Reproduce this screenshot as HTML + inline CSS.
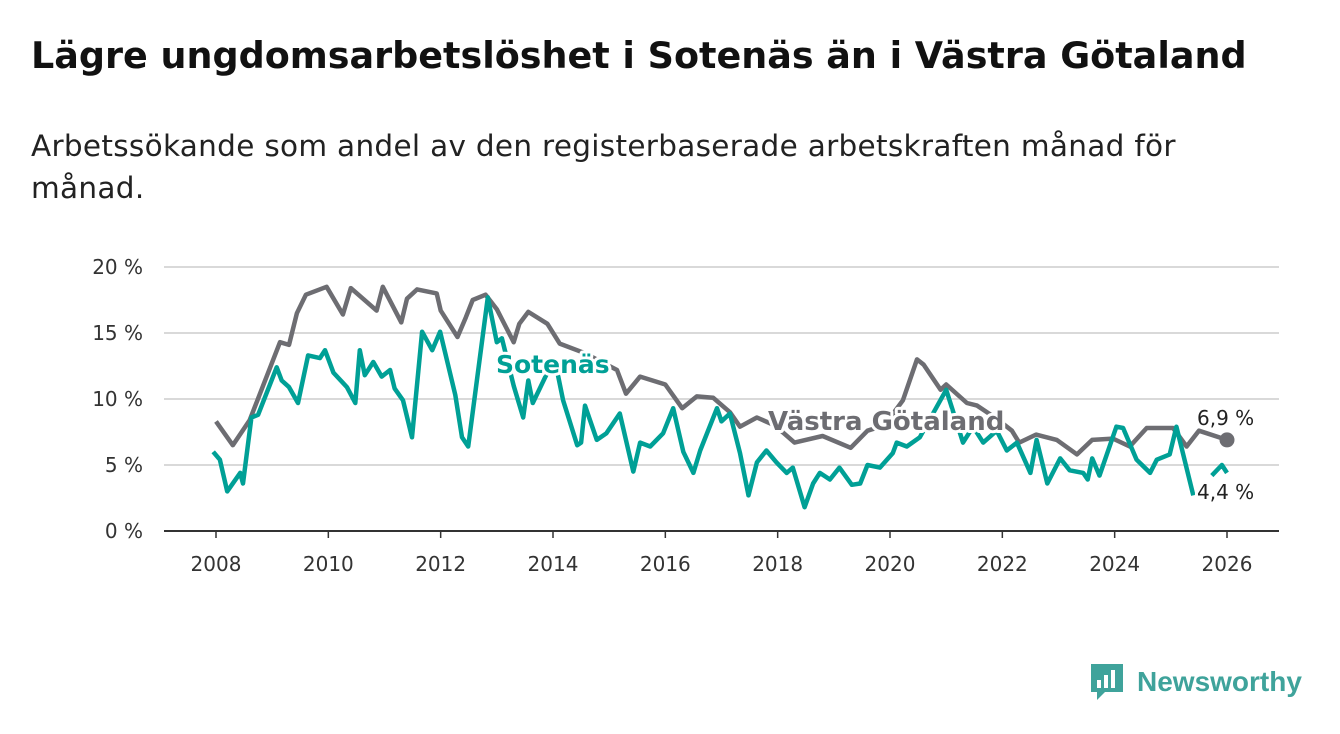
<!DOCTYPE html>
<html><head><meta charset="utf-8">
<style>
body{margin:0;background:#fff;width:1340px;height:734px;overflow:hidden;font-family:"DejaVu Sans","Liberation Sans",sans-serif;}
h1{position:absolute;left:31px;top:34px;margin:0;font-size:36.5px;font-weight:bold;color:#111;white-space:nowrap}
.sub{position:absolute;left:31px;top:125px;margin:0;font-size:29.5px;line-height:42px;color:#222;width:1280px;letter-spacing:0.3px;white-space:nowrap}
</style></head><body>
<h1>Lägre ungdomsarbetslöshet i Sotenäs än i Västra Götaland</h1>
<p class="sub">Arbetssökande som andel av den registerbaserade arbetskraften månad för<br>månad.</p>
<svg id="chart" width="1340" height="734" style="position:absolute;left:0;top:0"></svg>
<div style="position:absolute;left:1089px;top:662px;display:flex;align-items:center">
<svg width="36" height="40"><path d="M2 2h32v28H16l-8 8v-8H2z" fill="#3fa39b"/><rect x="8" y="18" width="4" height="8" fill="#fff"/><rect x="15" y="13" width="4" height="13" fill="#fff"/><rect x="22" y="8" width="4" height="18" fill="#fff"/></svg>
<span style="font-size:28px;color:#3fa39b;margin-left:12px;font-family:'Liberation Sans',sans-serif;font-weight:bold">Newsworthy</span></div>
<script>
const yTicks=[0,5,10,15,20];
const xTicks=[2008,2010,2012,2014,2016,2018,2020,2022,2024,2026];
const vgDates=[2008.0,2008.3,2008.6,2009.14,2009.3,2009.44,2009.6,2009.97,2010.26,2010.4,2010.86,2010.97,2011.3,2011.4,2011.58,2011.93,2012.0,2012.3,2012.45,2012.57,2012.8,2013.0,2013.3,2013.4,2013.56,2013.9,2014.12,2014.55,2015.14,2015.3,2015.55,2016.0,2016.3,2016.56,2016.85,2017.15,2017.33,2017.63,2017.95,2018.3,2018.8,2019.3,2019.6,2019.9,2020.23,2020.48,2020.6,2020.9,2021.0,2021.37,2021.55,2021.9,2022.17,2022.3,2022.6,2022.97,2023.33,2023.6,2023.97,2024.27,2024.57,2025.04,2025.28,2025.5,2026.0];
const vgValues=[8.3,6.5,8.4,14.3,14.1,16.5,17.9,18.5,16.4,18.4,16.7,18.5,15.8,17.6,18.3,18.0,16.7,14.7,16.2,17.5,17.9,16.8,14.3,15.7,16.6,15.7,14.2,13.5,12.2,10.4,11.7,11.1,9.3,10.2,10.1,9.0,7.9,8.6,8.0,6.7,7.2,6.3,7.6,8.0,9.9,13.0,12.6,10.7,11.1,9.7,9.5,8.5,7.6,6.7,7.3,6.9,5.8,6.9,7.0,6.4,7.8,7.8,6.4,7.6,6.9];
const soDates=[2007.95,2008.07,2008.2,2008.43,2008.48,2008.63,2008.75,2009.08,2009.17,2009.3,2009.46,2009.64,2009.85,2009.94,2010.09,2010.33,2010.48,2010.56,2010.65,2010.8,2010.95,2011.1,2011.18,2011.33,2011.49,2011.67,2011.85,2011.99,2012.26,2012.38,2012.49,2012.84,2013.0,2013.09,2013.3,2013.47,2013.56,2013.64,2013.9,2014.07,2014.18,2014.43,2014.5,2014.57,2014.78,2014.95,2015.19,2015.43,2015.55,2015.73,2015.96,2016.14,2016.32,2016.5,2016.62,2016.92,2017.0,2017.15,2017.33,2017.48,2017.63,2017.8,2017.98,2018.16,2018.27,2018.48,2018.63,2018.75,2018.93,2019.1,2019.32,2019.47,2019.6,2019.82,2020.05,2020.12,2020.3,2020.53,2021.0,2021.3,2021.48,2021.66,2021.9,2022.08,2022.26,2022.5,2022.61,2022.8,2023.03,2023.2,2023.44,2023.52,2023.6,2023.73,2024.03,2024.15,2024.39,2024.63,2024.75,2024.98,2025.1,2025.4,2025.55,2025.73,2025.91,2026.0];
const soValues=[6.0,5.4,3.0,4.4,3.6,8.6,8.8,12.4,11.4,10.9,9.7,13.3,13.1,13.7,12.0,10.9,9.7,13.7,11.8,12.8,11.7,12.2,10.8,9.9,7.1,15.1,13.7,15.1,10.3,7.1,6.4,17.7,14.3,14.6,11.0,8.6,11.4,9.7,12.0,12.2,9.9,6.5,6.7,9.5,6.9,7.4,8.9,4.5,6.7,6.4,7.4,9.3,6.0,4.4,6.1,9.3,8.3,8.9,5.9,2.7,5.2,6.1,5.2,4.4,4.8,1.8,3.6,4.4,3.9,4.8,3.5,3.6,5.0,4.8,5.9,6.7,6.4,7.1,10.7,6.7,7.9,6.7,7.6,6.1,6.7,4.4,6.9,3.6,5.5,4.6,4.4,3.9,5.5,4.2,7.9,7.8,5.4,4.4,5.4,5.8,7.9,2.7,null,4.2,5.0,4.4];
const NS='http://www.w3.org/2000/svg';
const svg=document.getElementById('chart');
const X=v=>216+(v-2008)*(1227-216)/18;
const Y=v=>531-v*(531-267)/20;
const FF='DejaVu Sans, Liberation Sans, sans-serif';
function mk(t,a){const e=document.createElementNS(NS,t);for(const k in a)e.setAttribute(k,a[k]);svg.appendChild(e);return e;}
yTicks.forEach(t=>{
 const l=mk('line',{x1:164,x2:1279,y1:Y(t),y2:Y(t),stroke:t===0?'#333':'#d9d9d9','stroke-width':2});
 
 
 const tx=mk('text',{x:143,y:Y(t)+7,'text-anchor':'end','font-size':20,fill:'#333','font-family':FF});
 tx.textContent=t+' %';
 
 
});
xTicks.forEach(t=>{
 const l=mk('line',{x1:X(t),x2:X(t),y1:531,y2:538,stroke:'#333','stroke-width':1.5});
 
 
 const tx=mk('text',{x:X(t),y:571,'text-anchor':'middle','font-size':20,fill:'#333','font-family':FF});
 tx.textContent=t;
 
 
});
function path(d,v){let s='',pen=false;d.forEach((x,i)=>{if(v[i]===null){pen=false;return;}s+=(pen?'L':'M')+X(x).toFixed(1)+','+Y(v[i]).toFixed(1);pen=true;});return s;}
const g=mk('path',{d:path(vgDates,vgValues),fill:'none',stroke:'#6d6d72','stroke-width':4.5,'stroke-linejoin':'round'});


const s=mk('path',{d:path(soDates,soValues),fill:'none',stroke:'#00a096','stroke-width':4.5,'stroke-linejoin':'round'});


const dot=mk('circle',{cx:X(vgDates[vgDates.length-1]),cy:Y(vgValues[vgValues.length-1]),r:7.5,fill:'#6d6d72'});


function lab(x,y,txt,col,size,bold,name){
 const t=mk('text',{x:x,y:y,'font-size':size,fill:col,'font-weight':bold?'bold':'normal','font-family':FF,stroke:'#fff','stroke-width':6,'paint-order':'stroke','stroke-linejoin':'round'});
 t.textContent=txt;
 
 
}
lab(496,373,'Sotenäs','#00a096',25,true,'sotenas-label');
lab(768,430,'Västra Götaland','#6d6d72',26,true,'vastra-gotaland-label');
lab(1197,425,'6,9 %','#222',20,false,'vg-end-value');
lab(1197,499,'4,4 %','#222',20,false,'sotenas-end-value');
</script>
</body></html>
